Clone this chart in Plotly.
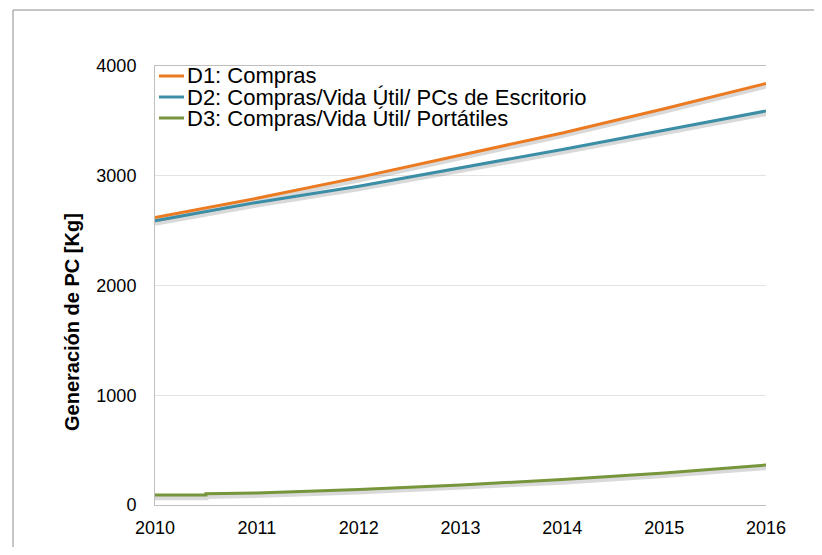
import plotly.graph_objects as go

# ---- data ----
years = [2010, 2011, 2012, 2013, 2014, 2015, 2016]
d1_compras = [2620, 2795, 2985, 3185, 3390, 3610, 3840]
d2_escritorio = [2590, 2757, 2905, 3070, 3240, 3415, 3590]
d3_years = [2010, 2010.5, 2010.5, 2011, 2012, 2013, 2014, 2015, 2016]
d3_portatiles = [90, 90, 102, 110, 142, 182, 232, 292, 364]

series_names = [
    "D1: Compras",
    "D2: Compras/Vida Útil/ PCs de Escritorio",
    "D3: Compras/Vida Útil/ Portátiles",
]
series_colors = ["#EB7A21", "#3B8EA5", "#77953A"]
y_ticks = [0, 1000, 2000, 3000, 4000]
x_ticks = years
y_title = "Generación de PC [Kg]"

FONT = "Liberation Sans, Arial, sans-serif"
OFF = 8  # page body margin
W, H = 814, 539
# plot area in reference pixel coords: x 155..766, y 66..505
L_REF, R_REF, T_REF, B_REF = 155, 766, 66, 505
ML, MT = L_REF - OFF, T_REF - OFF
MR, MB = W - (R_REF - OFF), H - (B_REF - OFF)
PW, PH = R_REF - L_REF, B_REF - T_REF

def px_x(x):
    return (x - L_REF) / PW

def px_y(y):
    return (B_REF - y) / PH

series = [
    (years, d1_compras),
    (years, d2_escritorio),
    (d3_years, d3_portatiles),
]

fig = go.Figure()
shadow_offset = 24
for (xs, ys), name, color in zip(series, series_names, series_colors):
    fig.add_trace(go.Scatter(
        x=xs, y=[v - shadow_offset for v in ys], mode="lines",
        line=dict(color="rgba(0,0,0,0.15)", width=5),
        hoverinfo="skip", showlegend=False,
    ))
    fig.add_trace(go.Scatter(
        x=xs, y=ys, mode="lines", name=name,
        line=dict(color=color, width=3),
        showlegend=False,
    ))

# legend drawn as annotations + sample lines
legend_rows_px = [76, 97, 118]
for name, color, ry in zip(series_names, series_colors, legend_rows_px):
    fig.add_shape(type="line", xref="paper", yref="paper",
                  x0=px_x(159), x1=px_x(184), y0=px_y(ry), y1=px_y(ry),
                  line=dict(color=color, width=3))
    fig.add_annotation(text=name, xref="paper", yref="paper",
                       x=px_x(185), y=px_y(ry), xanchor="left", yanchor="middle",
                       showarrow=False, font=dict(family=FONT, size=22, color="#000000"))

# y-axis title
fig.add_annotation(text="<b>" + y_title + "</b>", xref="paper", yref="paper",
                   x=px_x(72), y=px_y(322), xanchor="center", yanchor="middle",
                   textangle=-90, showarrow=False,
                   font=dict(family=FONT, size=20, color="#000000"))

# outer border (left and top)
fig.add_shape(type="line", xref="paper", yref="paper",
              x0=px_x(13), x1=px_x(13), y0=px_y(560), y1=px_y(10),
              line=dict(color="#8c8c8c", width=1))
fig.add_shape(type="line", xref="paper", yref="paper",
              x0=px_x(13), x1=px_x(830), y0=px_y(10), y1=px_y(10),
              line=dict(color="#8c8c8c", width=1))

fig.update_layout(
    width=W, height=H,
    margin=dict(l=ML, r=MR, t=MT, b=MB, autoexpand=False),
    paper_bgcolor="white", plot_bgcolor="white",
    font=dict(family=FONT, size=18, color="#000000"),
    showlegend=False,
)
fig.update_xaxes(
    range=[2010, 2016], tickvals=x_ticks, ticktext=[str(v) for v in x_ticks],
    showgrid=False, zeroline=False, automargin=False,
    showline=True, linecolor="#bfbfbf", linewidth=1, mirror=True,
    ticks="", ticklabelstandoff=6,
    tickfont=dict(family=FONT, size=18, color="#000000"),
)
fig.update_yaxes(
    range=[0, 4000], tickvals=y_ticks,
    showgrid=True, gridcolor="#e3e3e3", gridwidth=1, zeroline=False, automargin=False,
    showline=True, linecolor="#bfbfbf", linewidth=1,
    ticks="", ticklabelstandoff=14,
    tickfont=dict(family=FONT, size=18, color="#000000"),
)

fig.write_html("out.html")
